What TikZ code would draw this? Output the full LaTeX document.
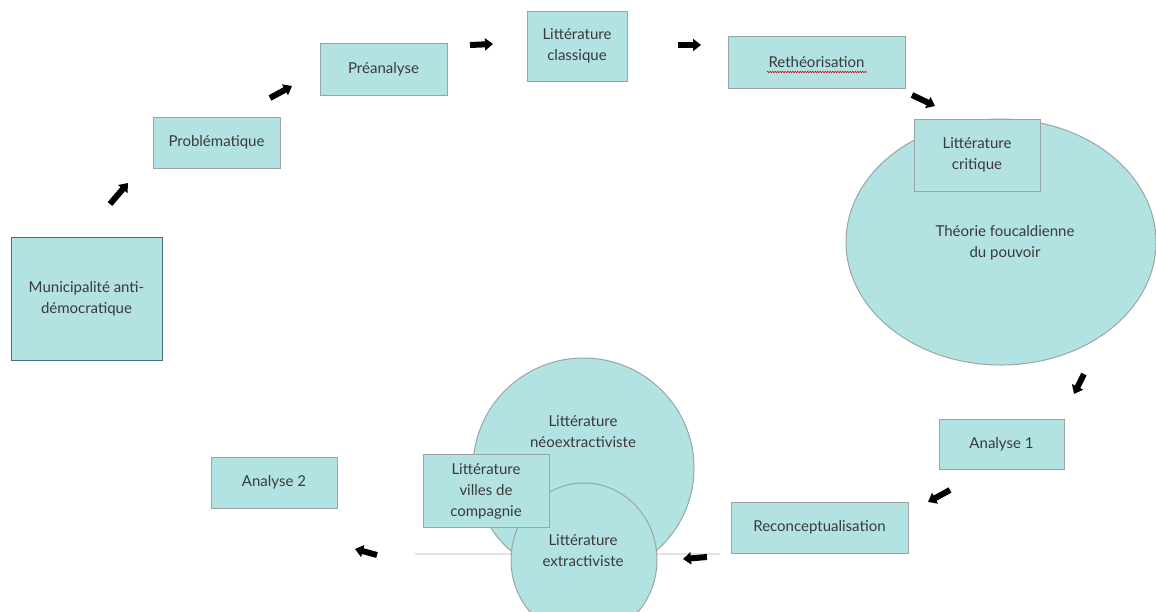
\documentclass[tikz,border=0pt]{standalone}
\usepackage{fontspec}
\setmainfont{Lato}
\usetikzlibrary{shapes.geometric,arrows.meta,decorations.pathmorphing}
\definecolor{tealfill}{HTML}{B3E2E2}
\definecolor{boxline}{HTML}{9AA6A6}
\definecolor{muniline}{HTML}{4F6F7F}
\definecolor{txt}{HTML}{3A3A3A}
\tikzset{
  box/.style={draw=boxline, line width=1pt, fill=tealfill, rectangle, align=center, inner sep=0pt,
    text=txt, font=\fontsize{15}{21}\selectfont},
  oval/.style={draw=boxline, line width=1pt, fill=tealfill, ellipse, inner sep=0pt},
  lbl/.style={align=center, text=txt, font=\fontsize{15}{21}\selectfont},
  blockarrow/.style={line width=6pt, -{Triangle[width=12pt,length=8pt]}, black, shorten >=0pt},
}
\begin{document}
\begin{tikzpicture}[x=1pt,y=-1pt]
\useasboundingbox (0,0) rectangle (1156,611);
% faint line
\coordinate (fl1) at (415,554);
\coordinate (fl2) at (720,554);
\draw[gray!22, line width=1.2pt] (fl1) -- (fl2);

\node[box, draw=muniline, minimum width=151pt, minimum height=123pt] (muni) at (86.5,298.5) {Municipalité anti-\\démocratique};
\node[box, minimum width=127pt, minimum height=51pt] (prob) at (216.5,142.5) {Problématique};
\node[box, minimum width=127pt, minimum height=52pt] (pre) at (383.5,69) {Préanalyse};
\node[box, minimum width=100pt, minimum height=70pt] (classique) at (577,46) {Littérature\\classique};
\node[box, minimum width=177pt, minimum height=52pt] (rethe) at (816.5,62) {Rethéorisation};
\coordinate (w1) at (767,72);
\coordinate (w2) at (867,72);
\draw[red!80!black, line width=0.5pt, decorate, decoration={snake, amplitude=0.8pt, segment length=2.5pt}] (w1) -- (w2);

\node[oval, minimum width=310pt, minimum height=246pt] (theorie) at (1001,242) {};
\node[lbl] (theotext) at (1005,243) {Théorie foucaldienne\\du pouvoir};
\node[box, minimum width=126pt, minimum height=72pt] (critique) at (977,155) {Littérature\\critique};

\node[box, minimum width=125pt, minimum height=50pt] (an1) at (1001.5,444) {Analyse 1};
\node[box, minimum width=177pt, minimum height=51pt] (reconc) at (819.5,527.5) {Reconceptualisation};
\node[box, minimum width=126pt, minimum height=51pt] (an2) at (274,482.5) {Analyse 2};

\node[oval, minimum width=221pt, minimum height=220pt] (neo) at (583.5,468) {};
\node[lbl] (neotext) at (583,432) {Littérature\\néoextractiviste};
\node[oval, minimum width=146pt, minimum height=154pt] (extr) at (584,560) {};
\node[lbl] (extrtext) at (583,551) {Littérature\\extractiviste};
\node[box, minimum width=126pt, minimum height=73pt] (villes) at (486,491) {Littérature\\villes de\\compagnie};

% arrows
\coordinate (a1s) at (110,204); \coordinate (a1e) at (128,183);
\coordinate (a2s) at (270,98);  \coordinate (a2e) at (292,86);
\coordinate (a3s) at (470,45);  \coordinate (a3e) at (493,44);
\coordinate (a4s) at (678,45);  \coordinate (a4e) at (701,45);
\coordinate (a5s) at (912,95);  \coordinate (a5e) at (935,106);
\coordinate (a6s) at (1084,374);\coordinate (a6e) at (1074,394);
\coordinate (a7s) at (950,490); \coordinate (a7e) at (928,502);
\coordinate (a8s) at (707,557); \coordinate (a8e) at (683,559);
\coordinate (a9s) at (377,555); \coordinate (a9e) at (355,549);
\foreach \i in {1,...,9} {\draw[blockarrow] (a\i s) -- (a\i e);}
\end{tikzpicture}
\end{document}
